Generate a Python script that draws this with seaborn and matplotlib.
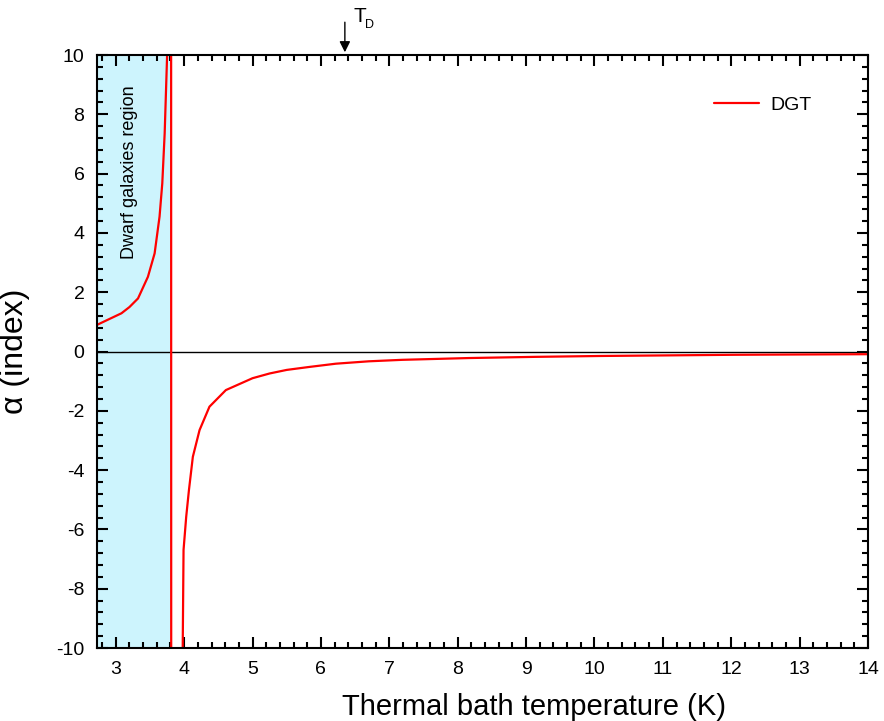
import numpy as np
import pandas as pd
import matplotlib.pyplot as plt
import seaborn as sns
from matplotlib.ticker import MultipleLocator

# values
temp_left = [2.725, 2.745, 3.083, 3.2, 3.325, 3.47, 3.568, 3.64, 3.68, 3.715, 3.75, 3.80]
alpha_left = [0.90, 0.92, 1.29, 1.50, 1.79, 2.52, 3.31, 4.55, 5.67, 7.36, 9.94, 200.0]
temp_right = [3.82, 3.975, 3.991, 4.03, 4.07, 4.127, 4.225, 4.37, 4.61, 5.0, 5.25, 5.5,
              5.83, 6.22, 6.7, 7.19, 8.16, 9.13, 10.1, 11.08, 12.05, 12.97, 14.0]
alpha_right = [-200.0, -11.0, -6.69, -5.57, -4.67, -3.55, -2.65, -1.86, -1.30, -0.90, -0.74,
               -0.62, -0.52, -0.41, -0.33, -0.28, -0.22, -0.18, -0.15, -0.13, -0.11, -0.10, -0.09]

dwarf_range = [2.725, 3.81]
t_d = 6.35

df = pd.DataFrame({"T": temp_left + temp_right, "alpha": alpha_left + alpha_right})

sns.set_style("ticks")
plt.rcParams['font.family'] = ['Liberation Sans', 'DejaVu Sans']
plt.rcParams['axes.unicode_minus'] = False
for k in ["text.color", "axes.labelcolor", "xtick.color", "ytick.color"]:
    plt.rcParams[k] = "black"

fig = plt.figure(figsize=(8.84, 7.21), dpi=100)
ax = fig.add_axes([0.1097, 0.1012, 0.8722, 0.8225])

ax.axvspan(dwarf_range[0], dwarf_range[1], color="#cdf4fd", zorder=0, lw=0)
ax.axhline(0, color="black", lw=1.0, zorder=1)
sns.lineplot(data=df, x="T", y="alpha", sort=False, estimator=None, color="red",
             lw=1.6, label="DGT", ax=ax, zorder=2)

ax.set_xlim(2.725, 14)
ax.set_ylim(-10, 10)
ax.xaxis.set_major_locator(MultipleLocator(1))
ax.xaxis.set_minor_locator(MultipleLocator(0.2))
ax.yaxis.set_major_locator(MultipleLocator(2))
ax.yaxis.set_minor_locator(MultipleLocator(0.4))
ax.tick_params(which="both", direction="in", top=True, right=True, width=1.5, labelsize=14)
ax.tick_params(axis="x", which="major", length=8, pad=9)
ax.tick_params(axis="y", which="major", length=8, pad=9)
ax.tick_params(which="minor", length=4.5)
for s in ax.spines.values():
    s.set_linewidth(1.5)
    s.set_color("black")

ax.set_xlabel("Thermal bath temperature (K)", fontsize=21)
ax.xaxis.set_label_coords(0.567, -0.075)
ax.set_ylabel("α (index)", fontsize=23)
ax.yaxis.set_label_coords(-0.087, 0.5)

ax.text(3.2, 6.05, "Dwarf galaxies region", rotation=90, ha="center", va="center", fontsize=13)

ax.annotate("", xy=(t_d, 10), xytext=(t_d, 11.2), xycoords="data", textcoords="data",
            annotation_clip=False,
            arrowprops=dict(arrowstyle="-|>", color="black", lw=1, mutation_scale=16))
ax.text(6.47, 11.11, "T", fontsize=15, ha="left", va="baseline", clip_on=False)
ax.text(6.64, 10.92, "D", fontsize=9, ha="left", va="baseline", clip_on=False)

leg = ax.legend(loc="upper right", frameon=False, fontsize=14, handlelength=2.3,
                handletextpad=0.6, bbox_to_anchor=(0.95, 0.96))

fig.savefig("out.png", dpi=100)
